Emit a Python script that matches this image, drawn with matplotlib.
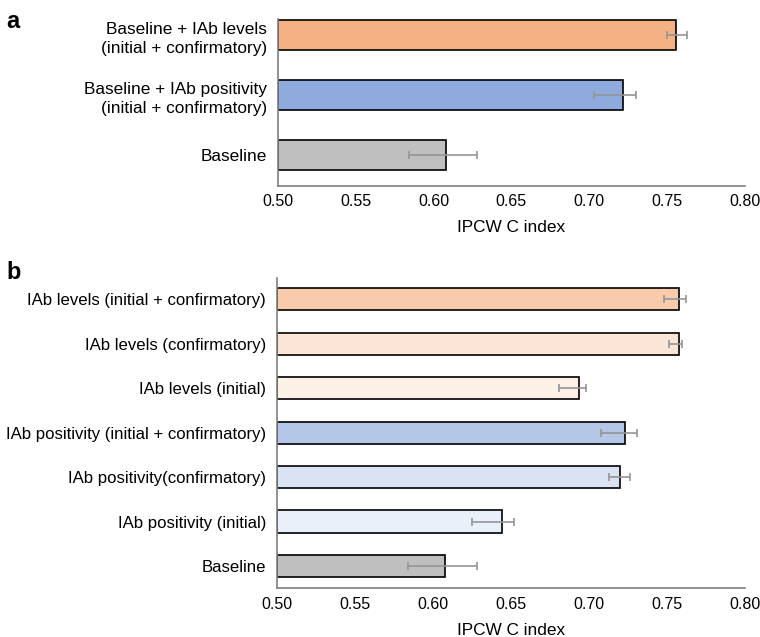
import numpy as np
import matplotlib.pyplot as plt

plt.rcParams['font.family'] = ['Liberation Sans', 'DejaVu Sans']

# panel a
labels_a = ['Baseline', 'Baseline + IAb positivity\n(initial + confirmatory)',
            'Baseline + IAb levels\n(initial + confirmatory)']
cindex_a = [0.608, 0.722, 0.756]
lo_a = [0.584, 0.703, 0.750]
hi_a = [0.628, 0.730, 0.763]
colors_a = ['#BFBFBF', '#8FAADC', '#F4B183']

# panel b
labels_b = ['Baseline', 'IAb positivity (initial)', 'IAb positivity(confirmatory)',
            'IAb positivity (initial + confirmatory)', 'IAb levels (initial)',
            'IAb levels (confirmatory)', 'IAb levels (initial + confirmatory)']
cindex_b = [0.6075, 0.644, 0.720, 0.7233, 0.6934, 0.7575, 0.758]
lo_b = [0.584, 0.625, 0.713, 0.708, 0.681, 0.7515, 0.748]
hi_b = [0.628, 0.652, 0.7265, 0.731, 0.698, 0.760, 0.762]
colors_b = ['#BFBFBF', '#EAF0F9', '#DAE3F3', '#B4C7E7', '#FCF1E6', '#FBE5D6', '#F8CBAD']

xticks = [0.50, 0.55, 0.60, 0.65, 0.70, 0.75, 0.80]


def draw(ax, labels, vals, lo, hi, colors, fs):
    y = np.arange(len(vals))
    vals = np.array(vals)
    err = [vals - np.array(lo), np.array(hi) - vals]
    ax.barh(y, vals - 0.5, left=0.5, height=0.5, color=colors,
            edgecolor='black', linewidth=1.2, zorder=2)
    ax.errorbar(vals, y, xerr=err, fmt='none', ecolor='#959595',
                elinewidth=1.2, capsize=3, capthick=1.2, zorder=3)
    ax.set_xlim(0.5, 0.8)
    ax.set_xticks(xticks)
    ax.set_xticklabels(['%.2f' % t for t in xticks])
    ax.set_yticks(y)
    ax.set_yticklabels(labels, linespacing=1.35)
    for s in ['top', 'right']:
        ax.spines[s].set_visible(False)
    for s in ['left', 'bottom']:
        ax.spines[s].set_color('#7F7F7F')
        ax.spines[s].set_linewidth(1.2)
    ax.tick_params(axis='y', length=0, pad=8, labelsize=fs)
    ax.tick_params(axis='x', length=0, pad=6, labelsize=11.5)
    ax.set_xlabel('IPCW C index', fontsize=12.4, labelpad=8)


fig = plt.figure(figsize=(7.6, 6.37), dpi=100)

ax1 = fig.add_axes([0.3658, 0.708, 0.6142, 0.262])
draw(ax1, labels_a, cindex_a, lo_a, hi_a, colors_a, 12.4)
ax1.set_ylim(-0.51, 2.27)

ax2 = fig.add_axes([0.3645, 0.0765, 0.6155, 0.487])
draw(ax2, labels_b, cindex_b, lo_b, hi_b, colors_b, 12.1)
ax2.set_ylim(-0.5, 6.48)

fig.text(0.008, 0.985, 'a', fontsize=17, fontweight='bold', va='top')
fig.text(0.008, 0.59, 'b', fontsize=17, fontweight='bold', va='top')

fig.savefig('out.png', dpi=100)
